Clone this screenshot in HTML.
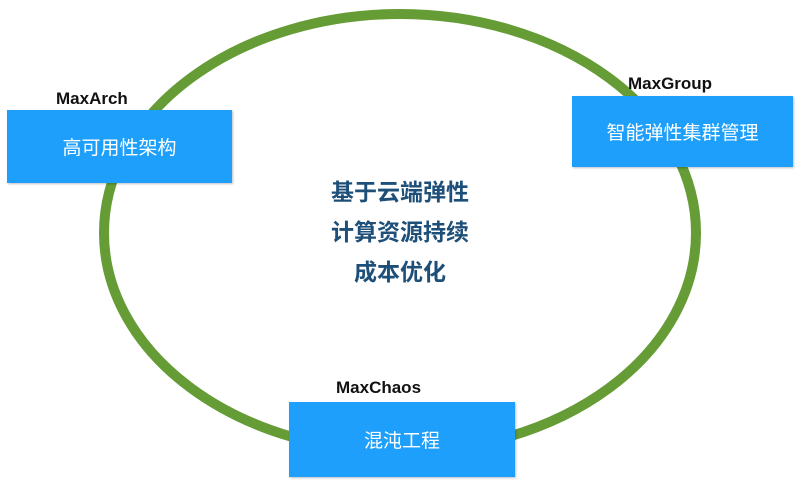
<!DOCTYPE html>
<html><head><meta charset="utf-8"><style>
body{margin:0;width:804px;height:480px;background:#fff;position:relative;overflow:hidden;font-family:"Liberation Sans","Noto Sans CJK SC",sans-serif}
.b{position:absolute;background:#1e9ffb;color:#fff;font-size:19px;display:flex;align-items:center;justify-content:center;box-shadow:1px 1px 2px rgba(0,0,0,.25)}
.l{position:absolute;font-weight:bold;font-size:17px;color:#111}
.c{position:absolute;left:300px;top:172px;width:200px;text-align:center;color:#1d4f78;font-size:23px;font-weight:bold;line-height:40px}
</style></head><body>
<svg width="804" height="480" style="position:absolute;left:0;top:0"><ellipse cx="400" cy="233" rx="296" ry="219" fill="none" stroke="#659c36" stroke-width="10"/></svg>
<div class="l" style="left:56px;top:89px">MaxArch</div>
<div class="b" style="left:7px;top:110px;width:225px;height:73px">高可用性架构</div>
<div class="l" style="left:628px;top:74px">MaxGroup</div>
<div class="b" style="left:572px;top:96px;width:221px;height:71px">智能弹性集群管理</div>
<div class="l" style="left:336px;top:378px">MaxChaos</div>
<div class="b" style="left:289px;top:402px;width:226px;height:75px">混沌工程</div>
<div class="c">基于云端弹性<br>计算资源持续<br>成本优化</div>
</body></html>
